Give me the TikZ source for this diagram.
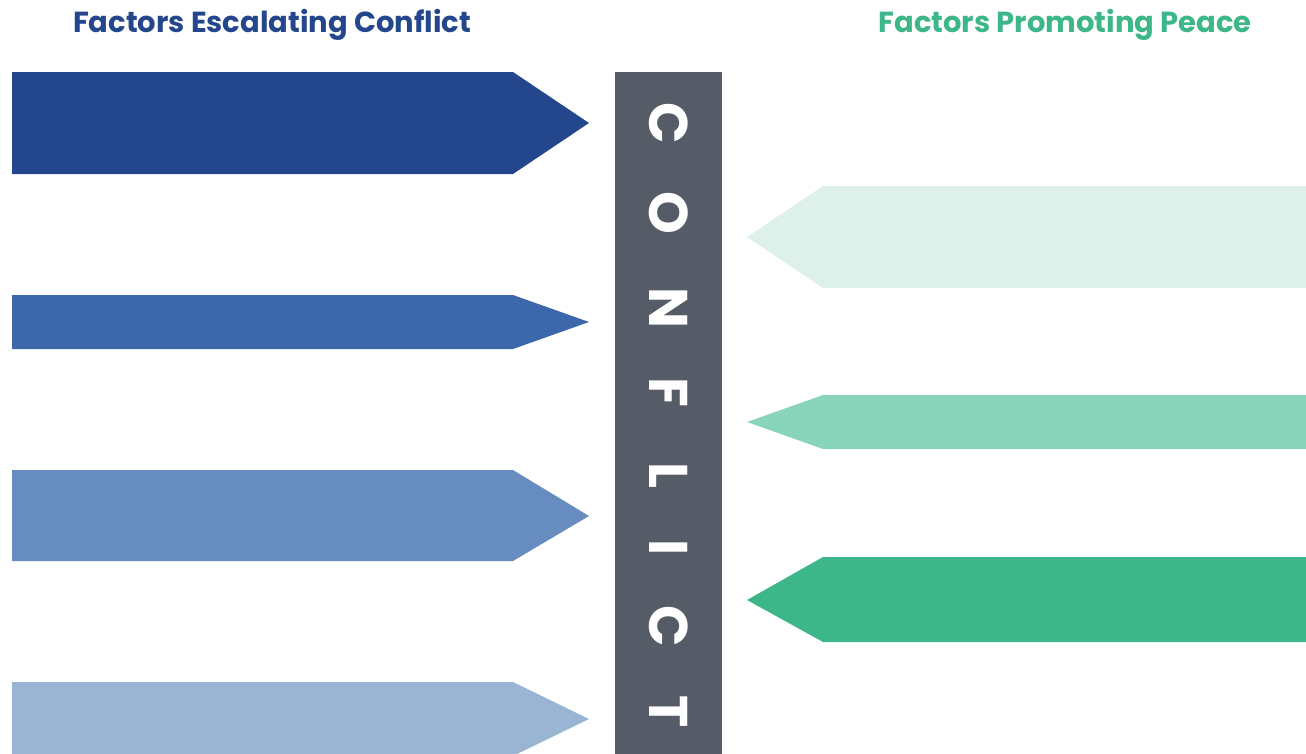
\documentclass[tikz,border=0pt]{standalone}
\usepackage{fontspec}
\setmainfont{Poppins}

\definecolor{escA}{HTML}{24468C}
\definecolor{escB}{HTML}{3C67AA}
\definecolor{escC}{HTML}{678DC0}
\definecolor{escD}{HTML}{9AB5D4}
\definecolor{peaceA}{HTML}{DDF1EA}
\definecolor{peaceB}{HTML}{88D5BB}
\definecolor{peaceC}{HTML}{3DB689}
\definecolor{barGray}{HTML}{555C67}

\begin{document}
\begin{tikzpicture}[x=0.02cm, y=-0.02cm,
  every node/.style={inner sep=0pt, outer sep=0pt},
  title/.style={font=\bfseries\fontsize{16.5}{20}\selectfont, anchor=base},
  barletter/.style={text=white, font=\bfseries\fontsize{31}{34}\selectfont, rotate=-90}]
  \def\L{12}   % left edge of the escalating arrows
  \def\R{1306} % right edge of the peace arrows

  % frame of the picture
  \useasboundingbox (0,0) rectangle (1306,754);

  % headings
  \node[title, text=escA] (esc) at (272,32) {Factors Escalating Conflict};
  \node[title, text=peaceC] (peace) at (1065,32) {Factors Promoting Peace};

  % escalating arrows (pointing right)
  \fill[escA] (\L,72) -- (513,72) -- (589,123) -- (513,174) -- (\L,174) -- cycle;
  \fill[escB] (\L,295) -- (513,295) -- (589,322) -- (513,349) -- (\L,349) -- cycle;
  \fill[escC] (\L,470) -- (513,470) -- (589,516) -- (513,561) -- (\L,561) -- cycle;
  \fill[escD] (\L,682) -- (513,682) -- (589,719) -- (513,756) -- (\L,756) -- cycle;

  % peace arrows (pointing left)
  \fill[peaceA] (\R,186) -- (823,186) -- (747,237) -- (823,288) -- (\R,288) -- cycle;
  \fill[peaceB] (\R,395) -- (823,395) -- (747,422) -- (823,449) -- (\R,449) -- cycle;
  \fill[peaceC] (\R,557) -- (823,557) -- (747,600) -- (823,642) -- (\R,642) -- cycle;

  % the conflict bar
  \fill[barGray] (615,72) rectangle (722,760);
  \foreach \ch/\yy [count=\i] in {C/123, O/213, N/308, F/392, L/475, I/548, C/626, T/712}
    \node[barletter] (letter\i) at (669,\yy) {\ch};

\end{tikzpicture}
\end{document}
